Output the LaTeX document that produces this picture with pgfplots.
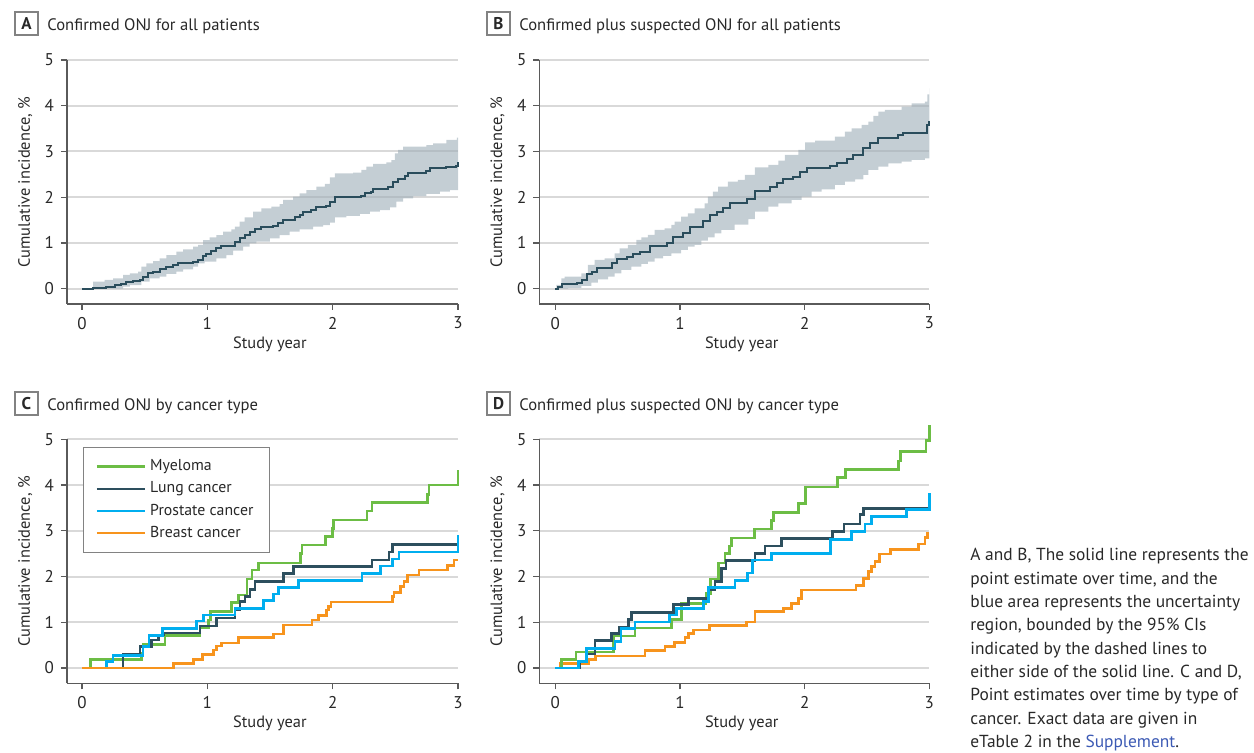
\documentclass[border=0pt]{standalone}
\usepackage{fontspec}
\setmainfont{PT Sans}
\usepackage{pgfplots}
\pgfplotsset{compat=1.18}
\definecolor{darkline}{RGB}{42,77,92}
\definecolor{bandc}{RGB}{157,173,183}
\definecolor{gridc}{RGB}{217,217,217}
\definecolor{axisc}{RGB}{90,90,90}
\definecolor{txt}{RGB}{40,40,40}
\definecolor{myel}{RGB}{108,189,69}
\definecolor{lung}{RGB}{45,79,94}
\definecolor{pros}{RGB}{0,174,239}
\definecolor{brst}{RGB}{247,148,29}
\definecolor{supp}{RGB}{60,90,180}
\definecolor{boxc}{RGB}{130,130,130}
\newcommand\chartfont{\fontsize{8.5}{10}\selectfont}
\newcommand\labfont{\fontsize{8.2}{10}\selectfont}
\newcommand\capfont{\fontsize{8.7}{11}\selectfont}
\pgfplotsset{
  panel/.style={
    scale only axis, width=195.5pt, height=122pt,
    xmin=-0.12, xmax=3, ymin=-0.335, ymax=5,
    axis x line*=bottom, axis y line*=left,
    axis line style={draw=axisc, line width=0.6pt, -},
    xtick={0,1,2,3}, ytick={0,1,2,3,4,5},
    tick align=outside, major tick length=3pt,
    tick style={draw=axisc, line width=0.6pt},
    ymajorgrids, major grid style={draw=gridc, line width=1pt},
    xlabel={Study year}, ylabel={Cumulative incidence, \%},
    label style={font=\labfont, text=txt},
    xlabel style={at={(axis description cs:0.519,-0.165)}, anchor=center},
    ylabel style={at={(axis description cs:-0.107,0.5)}, anchor=center},
    tick label style={font=\chartfont, text=txt},
    /pgf/number format/assume math mode=true,
    clip=false,
  },
  mainline/.style={const plot, draw=darkline, line width=1pt},
  bandfill/.style={const plot, fill=bandc, fill opacity=0.6, draw=none},
  grp/.style={const plot, line width=1.3pt, #1},
}
\begin{document}
\begin{tikzpicture}
% ---------- Panel A ----------
\begin{axis}[panel, at={(33.5pt,-152pt)}, anchor=south west]
% 95% CI region: upper bound (forward) then lower bound (backward)
\addplot[bandfill] coordinates {
(0,0) (0.088,0.153) (0.181,0.19) (0.248,0.226) (0.327,0.299) (0.381,0.335)
(0.447,0.372) (0.474,0.481) (0.514,0.554) (0.567,0.605) (0.62,0.663) (0.673,0.736)
(0.753,0.809) (0.806,0.86) (0.886,0.918) (0.926,0.955) (0.966,1.064) (1.019,1.122)
(1.072,1.173) (1.126,1.246) (1.192,1.297) (1.219,1.356) (1.258,1.465) (1.298,1.56)
(1.365,1.684) (1.431,1.757) (1.511,1.793) (1.577,1.851) (1.604,1.939) (1.684,2.012)
(1.737,2.085) (1.79,2.157) (1.87,2.23) (1.937,2.289) (1.977,2.434) (2.017,2.522)
(2.163,2.536) (2.229,2.595) (2.269,2.668) (2.323,2.726) (2.429,2.762) (2.469,2.813)
(2.496,2.959) (2.522,3.032) (2.562,3.105) (2.748,3.141) (2.801,3.178) (2.908,3.251)
(2.99,3.3) (3.0,3.3)
(3.0,2.157) (2.935,2.121) (2.855,2.07) (2.748,2.026) (2.642,1.975) (2.562,1.902)
(2.509,1.778) (2.456,1.72) (2.376,1.684) (2.296,1.633) (2.216,1.589) (2.11,1.56)
(2.017,1.443) (1.977,1.392) (1.924,1.356) (1.844,1.297) (1.737,1.246) (1.657,1.173)
(1.577,1.101) (1.498,1.028) (1.392,0.991) (1.338,0.918) (1.285,0.831) (1.205,0.736)
(1.152,0.663) (1.072,0.59) (0.979,0.554) (0.926,0.481) (0.886,0.423) (0.806,0.372)
(0.753,0.321) (0.673,0.262) (0.62,0.226) (0.54,0.153) (0.474,0.08) (0.381,0.044)
(0.327,0) (0,0)};
\addplot[mainline] coordinates {
(0,0) (0.088,0.022) (0.194,0.044) (0.261,0.073) (0.314,0.095) (0.354,0.146)
(0.407,0.175) (0.46,0.19) (0.487,0.262) (0.527,0.335) (0.567,0.372) (0.62,0.423)
(0.673,0.481) (0.727,0.517) (0.766,0.569) (0.886,0.59) (0.926,0.627) (0.966,0.714)
(0.992,0.758) (1.032,0.831) (1.072,0.882) (1.112,0.933) (1.219,1.028) (1.258,1.101)
(1.298,1.173) (1.338,1.246) (1.378,1.297) (1.431,1.356) (1.524,1.37) (1.564,1.429)
(1.604,1.501) (1.697,1.56) (1.737,1.611) (1.764,1.684) (1.83,1.72) (1.87,1.778)
(1.95,1.808) (1.977,1.902) (2.017,2.012) (2.229,2.026) (2.256,2.085) (2.309,2.121)
(2.323,2.172) (2.443,2.216) (2.483,2.34) (2.522,2.391) (2.575,2.464) (2.602,2.522)
(2.668,2.536) (2.748,2.58) (2.775,2.631) (2.908,2.653) (2.988,2.682) (3.0,2.777)};
\end{axis}
% ---------- Panel B ----------
\begin{axis}[panel, at={(269.67pt,-152pt)}, anchor=south west, width=195pt, xmin=-0.128]
\addplot[bandfill] coordinates {
(0,0) (0.008,0.081) (0.048,0.227) (0.075,0.263) (0.209,0.336) (0.262,0.518)
(0.316,0.627) (0.396,0.664) (0.476,0.773) (0.516,0.882) (0.583,0.955) (0.65,1.065)
(0.69,1.123) (0.743,1.174) (0.797,1.284) (0.877,1.32) (0.93,1.393) (0.957,1.466)
(1.01,1.575) (1.064,1.648) (1.117,1.757) (1.198,1.867) (1.224,2.013) (1.264,2.122)
(1.305,2.231) (1.385,2.341) (1.465,2.377) (1.521,2.486) (1.601,2.654) (1.708,2.705)
(1.789,2.8) (1.842,2.924) (1.949,3.033) (2.003,3.201) (2.083,3.237) (2.243,3.325)
(2.323,3.434) (2.377,3.507) (2.457,3.58) (2.511,3.652) (2.551,3.776) (2.591,3.871)
(2.644,3.907) (2.778,3.98) (2.858,4.053) (2.965,4.089) (2.985,4.25) (3.0,4.38)
(3.0,2.85) (2.965,2.814) (2.858,2.777) (2.778,2.741) (2.671,2.668) (2.591,2.595)
(2.511,2.486) (2.47,2.391) (2.404,2.34) (2.323,2.268) (2.243,2.173) (2.136,2.122)
(2.056,2.012) (1.976,1.939) (1.896,1.866) (1.789,1.794) (1.708,1.684) (1.601,1.52)
(1.548,1.40) (1.438,1.284) (1.331,1.21) (1.278,1.123) (1.224,1.05) (1.171,0.955)
(1.117,0.919) (1.064,0.846) (1.01,0.773) (0.93,0.715) (0.864,0.664) (0.797,0.591)
(0.743,0.54) (0.69,0.482) (0.61,0.409) (0.53,0.336) (0.476,0.263) (0.423,0.205)
(0.342,0.132) (0.289,0.059) (0.209,0.015) (0.102,0) (0,0)};
\addplot[mainline] coordinates {
(0,0) (0.024,0.04) (0.051,0.095) (0.171,0.13) (0.211,0.20) (0.251,0.32)
(0.291,0.37) (0.332,0.445) (0.452,0.554) (0.492,0.64) (0.572,0.70) (0.626,0.758)
(0.679,0.81) (0.759,0.933) (0.893,0.99) (0.947,1.12) (1.027,1.21) (1.08,1.356)
(1.187,1.487) (1.241,1.61) (1.294,1.684) (1.348,1.756) (1.401,1.88) (1.535,1.95)
(1.602,2.14) (1.722,2.23) (1.775,2.30) (1.829,2.40) (1.909,2.45) (1.963,2.56)
(2.016,2.63) (2.203,2.68) (2.257,2.755) (2.337,2.83) (2.39,2.92) (2.471,3.07)
(2.524,3.18) (2.591,3.29) (2.751,3.36) (2.791,3.41) (2.979,3.58) (3.0,3.67)};
\end{axis}
% ---------- Panel C ----------
\begin{axis}[panel, at={(33.5pt,-341.67pt)}, anchor=south west,
  legend style={at={(axis description cs:0.041,0.968)}, anchor=north west,
    draw=boxc, line width=0.6pt, font=\fontsize{7.9}{9}\selectfont, text=txt,
    inner xsep=6pt, inner ysep=4pt, row sep=0pt,
    /tikz/every even column/.append style={column sep=2pt}},
  legend cell align=left,
  legend image code/.code={\draw[#1] (0pt,0pt) -- (24pt,0pt);}]
\addplot[grp=myel] coordinates {
(0,0) (0.067,0.19) (0.475,0.33) (0.488,0.52) (0.661,0.71) (0.941,0.89)
(1.008,1.05) (1.027,1.23) (1.195,1.43) (1.248,1.60) (1.315,1.95) (1.355,2.14)
(1.408,2.30) (1.741,2.50) (1.755,2.69) (1.941,2.87) (2.0,3.05) (2.008,3.24)
(2.275,3.43) (2.315,3.62) (2.755,3.80) (2.768,4.00) (3.0,4.34)};
\addlegendentry{Myeloma}
\addplot[grp=lung] coordinates {
(0,0) (0.328,0.30) (0.461,0.47) (0.555,0.61) (0.608,0.72) (0.648,0.77)
(0.941,0.92) (1.075,1.09) (1.221,1.27) (1.261,1.45) (1.301,1.57) (1.341,1.72)
(1.381,1.89) (1.608,2.06) (1.688,2.22) (2.315,2.36) (2.448,2.54) (2.475,2.70) (3.0,2.70)};
\addlegendentry{Lung cancer}
\addplot[grp=pros] coordinates {
(0,0) (0.195,0.14) (0.248,0.28) (0.488,0.47) (0.533,0.71) (0.643,0.87)
(0.915,1.03) (0.968,1.16) (1.221,1.30) (1.448,1.47) (1.528,1.62) (1.568,1.76)
(1.728,1.91) (2.235,2.07) (2.381,2.23) (2.475,2.38) (2.528,2.54) (3.0,2.90)};
\addlegendentry{Prostate cancer}
\addplot[grp=brst] coordinates {
(0,0) (0.728,0.10) (0.888,0.19) (0.963,0.30) (1.048,0.39) (1.075,0.48)
(1.115,0.55) (1.248,0.67) (1.528,0.74) (1.608,0.94) (1.835,1.05) (1.888,1.15)
(1.949,1.27) (1.968,1.34) (1.987,1.44) (2.475,1.56) (2.488,1.65) (2.541,1.78)
(2.568,1.89) (2.595,2.03) (2.688,2.14) (2.915,2.24) (2.968,2.36) (3.0,2.36)};
\addlegendentry{Breast cancer}
\end{axis}
% ---------- Panel D ----------
\begin{axis}[panel, at={(269.67pt,-341.67pt)}, anchor=south west, width=195pt, xmin=-0.128]
\addplot[grp=brst] coordinates {
(0,0) (0.043,0.10) (0.27,0.19) (0.324,0.26) (0.719,0.38) (0.88,0.47)
(0.955,0.56) (1.04,0.67) (1.067,0.76) (1.107,0.83) (1.235,0.93) (1.535,1.01)
(1.602,1.23) (1.829,1.30) (1.896,1.41) (1.949,1.52) (1.976,1.71) (2.412,1.81)
(2.471,1.96) (2.511,2.11) (2.537,2.22) (2.564,2.33) (2.599,2.49) (2.69,2.59)
(2.912,2.71) (2.965,2.86) (2.987,2.94) (3.0,2.94)};
\addplot[grp=myel] coordinates {
(0,0) (0.051,0.19) (0.166,0.35) (0.465,0.70) (0.639,0.875) (0.933,1.06)
(1.013,1.41) (1.209,1.63) (1.246,1.95) (1.307,2.30) (1.361,2.51) (1.396,2.67)
(1.414,2.84) (1.596,3.04) (1.735,3.22) (1.749,3.40) (1.949,3.60) (2.008,3.96)
(2.265,4.16) (2.329,4.34) (2.751,4.53) (2.77,4.73) (2.973,4.97) (3.0,5.31)};
\addplot[grp=lung] coordinates {
(0,0) (0.198,0.14) (0.251,0.31) (0.318,0.60) (0.452,0.76) (0.513,0.90)
(0.586,1.06) (0.612,1.22) (0.947,1.39) (1.067,1.52) (1.227,1.71) (1.281,1.89)
(1.334,2.18) (1.369,2.35) (1.602,2.51) (1.682,2.67) (1.816,2.83) (2.225,2.98)
(2.316,3.15) (2.444,3.35) (2.471,3.49) (3.0,3.49)};
\addplot[grp=pros] coordinates {
(0,0) (0.184,0.14) (0.251,0.43) (0.479,0.58) (0.527,0.87) (0.639,1.01)
(0.914,1.16) (0.973,1.30) (1.187,1.45) (1.227,1.76) (1.441,1.91) (1.54,2.08)
(1.583,2.36) (1.735,2.51) (2.209,2.81) (2.377,2.98) (2.484,3.15) (2.537,3.31)
(2.818,3.47) (3.0,3.82)};
\end{axis}
% ---------- Panel titles ----------
\foreach \L/\bx/\by/\T in {A/7.5pt/-6pt/{Confirmed ONJ for all patients},
  B/243.5pt/-6pt/{Confirmed plus suspected ONJ for all patients},
  C/7.5pt/-196pt/{Confirmed ONJ by cancer type},
  D/243.5pt/-196pt/{Confirmed plus suspected ONJ by cancer type}}{
  \draw[boxc, line width=0.6pt] (\bx,\by) rectangle ++(11.5pt,-11.5pt);
  \node[font=\chartfont\bfseries, text=txt, inner sep=0pt] at ([xshift=5.75pt,yshift=-5.75pt]\bx,\by) {\L};
  \node[font=\fontsize{8.3}{10}\selectfont, text=txt, inner sep=0pt, anchor=base west]
    at ([xshift=16pt,yshift=-9.2pt]\bx,\by) {\T};
}
% ---------- Caption ----------
\foreach \i/\s in {0/{A and B, The solid line represents the},
  1/{point estimate over time, and the},
  2/{blue area represents the uncertainty},
  3/{region, bounded by the 95\% CIs},
  4/{indicated by the dashed lines to},
  5/{either side of the solid line. C and D,},
  6/{Point estimates over time by type of},
  7/{cancer. Exact data are given in},
  8/{eTable 2 in the \textcolor{supp}{Supplement}.}}{
  \node[font=\capfont, text=txt, inner sep=0pt, anchor=base west] at ([yshift=-\i*11.65pt]485pt,-280.5pt) {\s};
}
\pgfresetboundingbox
\path[use as bounding box] (0,0) rectangle (627pt,-376.5pt);
\end{tikzpicture}
\end{document}
